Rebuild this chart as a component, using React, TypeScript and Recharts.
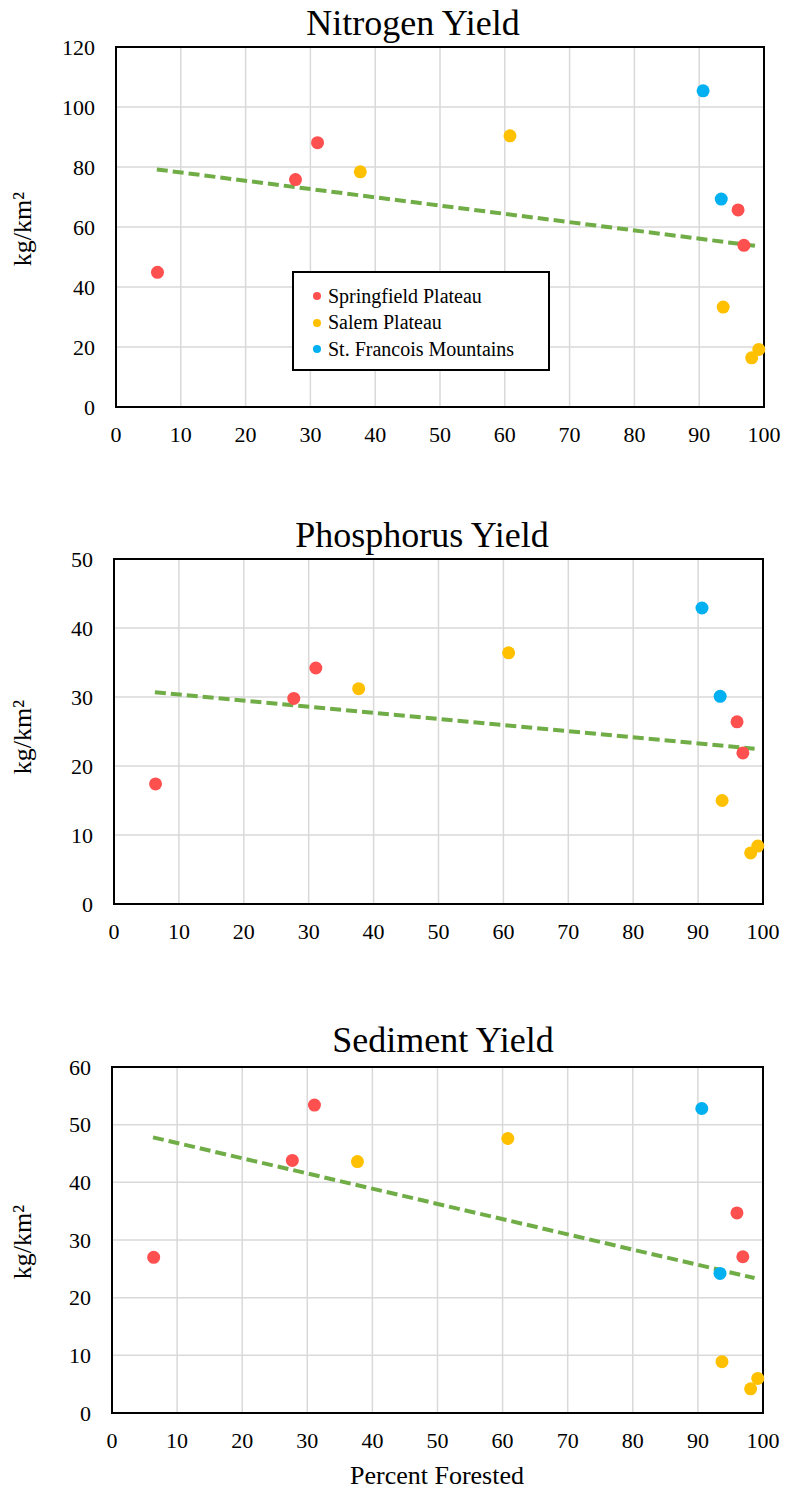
import {
  CartesianGrid,
  Legend,
  ReferenceArea,
  ReferenceLine,
  Scatter,
  ScatterChart,
  XAxis,
  YAxis,
} from "recharts";

// Percent forested for each site, grouped by ecoregion.
const forestSpring = [6.4, 27.7, 31.1, 96.0, 96.9];
const forestSalem = [37.7, 60.8, 93.7, 98.1, 99.2];
const forestFrancois = [90.6, 93.4];
const trendX = [6.3, 98.7];
const xTicks = [0, 10, 20, 30, 40, 50, 60, 70, 80, 90, 100];

// Nitrogen yield (kg/km²)
const nitrogenSpring = [44.9, 75.8, 88.1, 65.7, 53.9];
const nitrogenSalem = [78.4, 90.4, 33.3, 16.4, 19.2];
const nitrogenFrancois = [105.4, 69.3];
const nitrogenTrend = [79.2, 53.7];
const nitrogenTicks = [0, 20, 40, 60, 80, 100, 120];

// Phosphorus yield
const phosphorusSpring = [17.4, 29.8, 34.2, 26.4, 21.9];
const phosphorusSalem = [31.2, 36.4, 15.0, 7.4, 8.4];
const phosphorusFrancois = [42.9, 30.1];
const phosphorusTrend = [30.7, 22.5];
const phosphorusTicks = [0, 10, 20, 30, 40, 50];

// Sediment yield
const sedimentSpring = [27.0, 43.8, 53.4, 34.7, 27.1];
const sedimentSalem = [43.6, 47.6, 8.9, 4.2, 6.0];
const sedimentFrancois = [52.8, 24.2];
const sedimentTrend = [47.8, 23.4];
const sedimentTicks = [0, 10, 20, 30, 40, 50, 60];

const SERIES = [
  { name: "Springfield Plateau", color: "#ff5050" },
  { name: "Salem Plateau", color: "#ffc000" },
  { name: "St. Francois Mountains", color: "#00b0f0" },
];
const TREND = "#70ad47";
const GRID = "#d9d9d9";
const FONT = '"Liberation Serif", "Times New Roman", serif';
const W = 785;
const Y_AXIS_W = 60;
const X_AXIS_H = 40;

const zip = (xs: number[], ys: number[]) => xs.map((x, i) => ({ x, y: ys[i] }));

function Dot(props: any) {
  if (props.cx == null || props.cy == null) return <g />;
  return <circle cx={props.cx} cy={props.cy} r={6.5} fill={props.fill} />;
}

function XTick({ x, y, payload }: any) {
  return (
    <text x={x} y={y} dy="0.71em" textAnchor="middle" fontFamily={FONT} fontSize={22} fill="#000">
      {payload.value}
    </text>
  );
}

function YTick({ x, y, payload }: any) {
  return (
    <text x={x} y={y} dy="0.355em" textAnchor="end" fontFamily={FONT} fontSize={22} fill="#000">
      {payload.value}
    </text>
  );
}

function LegendBox() {
  return (
    <div
      style={{
        boxSizing: "border-box",
        width: 258,
        height: 100,
        border: "2px solid #000",
        background: "#fff",
        paddingTop: 10,
        fontFamily: FONT,
        fontSize: 20,
        color: "#000",
      }}
    >
      {SERIES.map((s) => (
        <div
          key={s.name}
          style={{ display: "flex", alignItems: "center", height: 26.5, whiteSpace: "nowrap" }}
        >
          <span
            style={{
              display: "inline-block",
              width: 8,
              height: 8,
              borderRadius: "50%",
              background: s.color,
              marginLeft: 19,
              marginRight: 7,
            }}
          />
          {s.name}
        </div>
      ))}
    </div>
  );
}

type PanelProps = {
  top: number;
  height: number;
  plot: { left: number; right: number; top: number; bottom: number };
  spring: number[];
  salem: number[];
  francois: number[];
  trend: number[];
  yTicks: number[];
  legend?: boolean;
};

function Panel({ top, height, plot, spring, salem, francois, trend, yTicks, legend }: PanelProps) {
  const yMax = yTicks[yTicks.length - 1];
  const margin = {
    top: plot.top - top,
    bottom: height - (plot.bottom - top) - X_AXIS_H,
    left: plot.left - Y_AXIS_W,
    right: W - plot.right,
  };
  return (
    <div style={{ position: "absolute", left: 0, top }}>
      <ScatterChart width={W} height={height} margin={margin}>
        <CartesianGrid stroke={GRID} strokeWidth={1.5} />
        <XAxis
          type="number"
          dataKey="x"
          domain={[0, 100]}
          ticks={xTicks}
          tick={<XTick />}
          tickLine={false}
          axisLine={false}
          tickSize={0}
          tickMargin={19}
          height={X_AXIS_H}
          interval={0}
        />
        <YAxis
          type="number"
          dataKey="y"
          domain={[0, yMax]}
          ticks={yTicks}
          tick={<YTick />}
          tickLine={false}
          axisLine={false}
          tickSize={0}
          tickMargin={21}
          width={Y_AXIS_W}
          interval={0}
        />
        <ReferenceArea x1={0} x2={100} y1={0} y2={yMax} fill="none" stroke="#000" strokeWidth={2} />
        <Scatter name={SERIES[0].name} data={zip(forestSpring, spring)} fill={SERIES[0].color} shape={Dot} isAnimationActive={false} />
        <Scatter name={SERIES[1].name} data={zip(forestSalem, salem)} fill={SERIES[1].color} shape={Dot} isAnimationActive={false} />
        <Scatter name={SERIES[2].name} data={zip(forestFrancois, francois)} fill={SERIES[2].color} shape={Dot} isAnimationActive={false} />
        <ReferenceLine
          segment={zip(trendX, trend)}
          stroke={TREND}
          strokeWidth={4}
          strokeDasharray="11 5"
        />
        {legend && (
          <Legend
            layout="vertical"
            align="center"
            verticalAlign="middle"
            content={() => <LegendBox />}
            wrapperStyle={{ left: 292, top: 271, width: 258, height: 100 }}
          />
        )}
      </ScatterChart>
    </div>
  );
}

export default function App() {
  return (
    <div
      style={{
        position: "absolute",
        left: 0,
        top: 0,
        width: W,
        height: 1491,
        background: "#fff",
        fontFamily: FONT,
      }}
    >
      <Panel
        top={0}
        height={470}
        plot={{ left: 116, right: 764, top: 47, bottom: 407 }}
        spring={nitrogenSpring}
        salem={nitrogenSalem}
        francois={nitrogenFrancois}
        trend={nitrogenTrend}
        yTicks={nitrogenTicks}
        legend
      />
      <Panel
        top={500}
        height={470}
        plot={{ left: 114, right: 763, top: 559, bottom: 904 }}
        spring={phosphorusSpring}
        salem={phosphorusSalem}
        francois={phosphorusFrancois}
        trend={phosphorusTrend}
        yTicks={phosphorusTicks}
      />
      <Panel
        top={1010}
        height={481}
        plot={{ left: 112, right: 763, top: 1067, bottom: 1413 }}
        spring={sedimentSpring}
        salem={sedimentSalem}
        francois={sedimentFrancois}
        trend={sedimentTrend}
        yTicks={sedimentTicks}
      />
      <svg
        width={W}
        height={1491}
        fontFamily={FONT}
        fill="#000"
        style={{ position: "absolute", left: 0, top: 0, pointerEvents: "none" }}
      >
        <text x={413} y={35} textAnchor="middle" fontSize={36}>Nitrogen Yield</text>
        <text x={422} y={547} textAnchor="middle" fontSize={36}>Phosphorus Yield</text>
        <text x={443} y={1052} textAnchor="middle" fontSize={36}>Sediment Yield</text>
        {[229, 737, 1242].map((cy) => (
          <text
            key={cy}
            x={0}
            y={0}
            transform={`translate(31 ${cy}) rotate(-90)`}
            textAnchor="middle"
            fontSize={26}
          >
            kg/km²
          </text>
        ))}
        <text x={437} y={1484} textAnchor="middle" fontSize={26}>Percent Forested</text>
      </svg>
    </div>
  );
}
